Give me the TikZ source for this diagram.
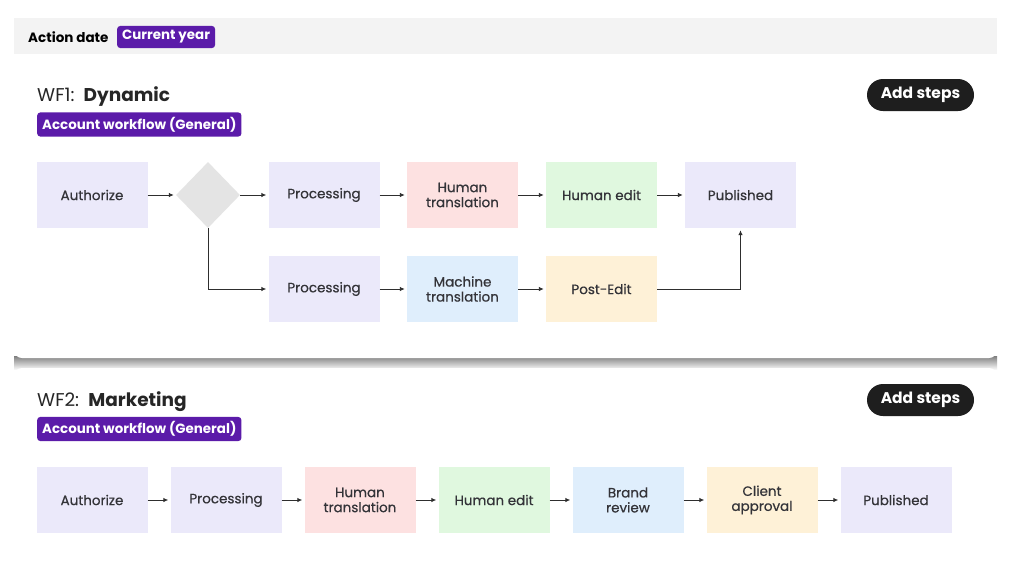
\documentclass[tikz,border=0pt]{standalone}
\usepackage{fontspec}
\setmainfont{Poppins}
\newfontfamily\medfont{Poppins}[FakeBold=0.6]
\usetikzlibrary{arrows.meta,shapes.geometric}

\definecolor{lav}{HTML}{EBE9FA}
\definecolor{pinkish}{HTML}{FDE1E1}
\definecolor{mint}{HTML}{E0F8DF}
\definecolor{skyish}{HTML}{DFEEFC}
\definecolor{cream}{HTML}{FEF1D7}
\definecolor{decgrey}{HTML}{E4E4E4}
\definecolor{purp}{HTML}{5B1BA9}
\definecolor{btnblack}{HTML}{1E1E1E}
\definecolor{textgrey}{HTML}{333338}
\definecolor{linegrey}{HTML}{2E2E2E}
\definecolor{barfill}{HTML}{F3F3F3}
\definecolor{shade}{HTML}{F0F0F0}

\tikzset{
  stepbox/.style={fill=#1, minimum width=111pt, minimum height=66pt, inner sep=0pt,
    align=center, text=textgrey, font=\medfont\fontsize{13.5}{15}\selectfont},
  flow/.style={-{Latex[length=5pt,width=4.5pt]}, draw=linegrey, line width=0.9pt, shorten >=2pt},
  badge/.style={fill=purp, text=white, rounded corners=3pt, inner xsep=5pt, inner ysep=4.5pt,
    font=\bfseries\fontsize{13.4}{13.4}\selectfont},
  addbtn/.style={fill=btnblack, text=white, rounded corners=16pt, minimum height=32pt,
    minimum width=107pt, inner sep=0pt, font=\bfseries\fontsize{15.5}{15.5}\selectfont},
  wftitle/.style={anchor=base west, inner sep=0pt, text=black!85, font=\fontsize{18.5}{18.5}\selectfont},
}

\begin{document}
\begin{tikzpicture}[x=1pt,y=-1pt]
  \useasboundingbox (0,0) rectangle (1015,560);
  \clip (0,0) rectangle (1015,560);
  \fill[white] (0,0) rectangle (1015,560);

  % filter bar
  \fill[barfill] (14,18) rectangle (997,54);
  \node (actdate) [anchor=west, inner sep=0pt, font=\bfseries\fontsize{13.5}{13.5}\selectfont] at (28,37) {Action date};
  \node (curyear) [badge, anchor=west] at (117,37) {Current year};

  % cards
  \fill[shade] (14,356) rectangle (997,370);
  \fill[white, rounded corners=8pt] (14,62) rectangle (997,358);
  \fill[white, rounded corners=8pt] (14,368) rectangle (997,600);

  % WF1
  \node (wf1) [wftitle] at (37,101.5) {WF1:\enspace\textbf{Dynamic}};
  \node (acc1) [badge, anchor=west] at (37,124.5) {Account workflow (General)};
  \node (add1) [addbtn] at (920.5,95) {Add steps};

  \node (auth1) [stepbox=lav] at (92,195) {Authorize};
  \node (dec) [diamond, fill=decgrey, minimum width=64pt, minimum height=66pt, inner sep=0pt] at (208,195) {};
  \node (proc1) [stepbox=lav] at (324,195) {Processing};
  \node (htr1) [stepbox=pinkish] at (462.5,195) {Human\\translation};
  \node (hedit1) [stepbox=mint] at (601.5,195) {Human edit};
  \node (pub1) [stepbox=lav] at (740.5,195) {Published};

  \node (proc2) [stepbox=lav] at (324,289) {Processing};
  \node (mtr) [stepbox=skyish] at (462.5,289) {Machine\\translation};
  \node (post) [stepbox=cream] at (601.5,289) {Post-Edit};

  \draw[flow] (auth1) -- (dec);
  \draw[flow] (dec) -- (proc1);
  \draw[flow] (proc1) -- (htr1);
  \draw[flow] (htr1) -- (hedit1);
  \draw[flow] (hedit1) -- (pub1);
  \draw[flow] (dec.south) |- (proc2);
  \draw[flow] (proc2) -- (mtr);
  \draw[flow] (mtr) -- (post);
  \draw[flow] (post) -| (pub1);

  % WF2
  \node (wf2) [wftitle] at (37,406.5) {WF2:\enspace\textbf{Marketing}};
  \node (acc2) [badge, anchor=west] at (37,429) {Account workflow (General)};
  \node (add2) [addbtn] at (920.5,400) {Add steps};

  \node (auth2) [stepbox=lav] at (92,500) {Authorize};
  \node (proc3) [stepbox=lav] at (226,500) {Processing};
  \node (htr2) [stepbox=pinkish] at (360,500) {Human\\translation};
  \node (hedit2) [stepbox=mint] at (494,500) {Human edit};
  \node (brand) [stepbox=skyish] at (628,500) {Brand\\review};
  \node (client) [stepbox=cream] at (762,500) {Client\\approval};
  \node (pub2) [stepbox=lav] at (896,500) {Published};

  \draw[flow] (auth2) -- (proc3);
  \draw[flow] (proc3) -- (htr2);
  \draw[flow] (htr2) -- (hedit2);
  \draw[flow] (hedit2) -- (brand);
  \draw[flow] (brand) -- (client);
  \draw[flow] (client) -- (pub2);
\end{tikzpicture}
\end{document}
